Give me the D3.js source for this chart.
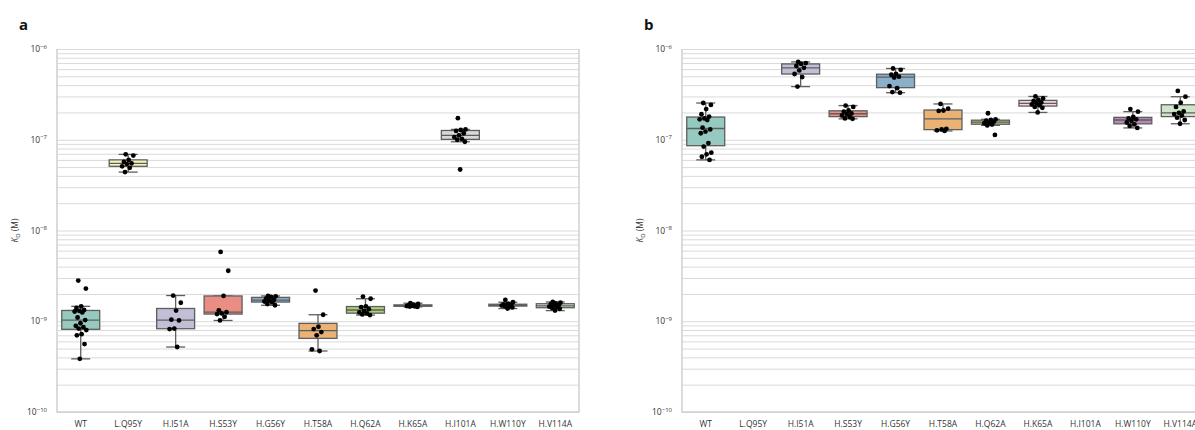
<!DOCTYPE html>
<html>
<head>
<meta charset="utf-8">
<script src="https://cdn.jsdelivr.net/npm/d3@7"></script>
<style>
  body { margin: 0; background: #fff; }
  text { font-family: "Open Sans", "Noto Sans", sans-serif; }
</style>
</head>
<body>
<svg id="chart" width="1195" height="430"></svg>
<script>
// categories on the x axis (same for both panels)
const categories = ["WT", "L.Q95Y", "H.I51A", "H.S53Y", "H.G56Y", "H.T58A", "H.Q62A", "H.K65A", "H.I101A", "H.W110Y", "H.V114A"];

// Set3 colours, one per category
const palette = ["#8dd3c7", "#ffffb3", "#bebada", "#fb8072", "#80b1d3", "#fdb462", "#b3de69", "#fccde5", "#d9d9d9", "#bc80bd", "#ccebc5"];

// decade ticks of the KD axis
const decadeTicks = [1e-10, 1e-9, 1e-8, 1e-7, 1e-6];

// panel a : KD values (M) per category
const kdA = [
  [2.81e-9, 2.29e-9, 1.46e-9, 1.40e-9, 1.33e-9, 1.30e-9, 1.28e-9, 1.25e-9, 1.10e-9, 1.03e-9, 9.5e-10, 8.9e-10, 8.6e-10, 8.3e-10, 8.0e-10, 7.2e-10, 7.0e-10, 5.6e-10, 3.85e-10],
  [6.9e-8, 6.7e-8, 6.0e-8, 5.7e-8, 5.5e-8, 5.4e-8, 5.1e-8, 4.9e-8, 4.4e-8],
  [1.92e-9, 1.60e-9, 1.31e-9, 1.04e-9, 1.02e-9, 8.3e-10, 8.2e-10, 5.2e-10],
  [5.8e-9, 3.6e-9, 1.9e-9, 1.32e-9, 1.26e-9, 1.22e-9, 1.2e-9, 1.12e-9, 1.02e-9],
  [1.9e-9, 1.88e-9, 1.85e-9, 1.78e-9, 1.72e-9, 1.70e-9, 1.65e-9, 1.62e-9, 1.55e-9, 1.5e-9],
  [2.18e-9, 1.18e-9, 8.7e-10, 8.2e-10, 7.6e-10, 7.0e-10, 4.9e-10, 4.7e-10],
  [1.87e-9, 1.77e-9, 1.46e-9, 1.43e-9, 1.36e-9, 1.30e-9, 1.25e-9, 1.22e-9, 1.19e-9, 1.17e-9],
  [1.58e-9, 1.55e-9, 1.52e-9, 1.50e-9, 1.49e-9, 1.48e-9, 1.47e-9, 1.46e-9, 1.45e-9, 1.44e-9],
  [1.73e-7, 1.30e-7, 1.28e-7, 1.25e-7, 1.18e-7, 1.12e-7, 1.07e-7, 1.02e-7, 1.0e-7, 9.5e-8, 4.7e-8],
  [1.72e-9, 1.62e-9, 1.55e-9, 1.53e-9, 1.52e-9, 1.50e-9, 1.49e-9, 1.48e-9, 1.46e-9, 1.42e-9, 1.38e-9],
  [1.63e-9, 1.60e-9, 1.57e-9, 1.55e-9, 1.50e-9, 1.48e-9, 1.45e-9, 1.42e-9, 1.40e-9, 1.37e-9, 1.31e-9]
];

// panel b : KD values (M) per category (no data for L.Q95Y and H.I101A)
const kdB = [
  [2.54e-7, 2.42e-7, 2.18e-7, 1.91e-7, 1.80e-7, 1.72e-7, 1.68e-7, 1.65e-7, 1.36e-7, 1.30e-7, 1.23e-7, 1.18e-7, 9.2e-8, 8.4e-8, 7.2e-8, 6.9e-8, 6.5e-8, 6.0e-8],
  [],
  [7.2e-7, 7.0e-7, 6.85e-7, 6.5e-7, 6.2e-7, 5.8e-7, 5.3e-7, 4.9e-7, 3.85e-7],
  [2.38e-7, 2.30e-7, 2.10e-7, 2.04e-7, 1.95e-7, 1.92e-7, 1.85e-7, 1.78e-7, 1.72e-7, 1.70e-7],
  [6.1e-7, 5.9e-7, 5.3e-7, 5.2e-7, 4.95e-7, 4.85e-7, 3.9e-7, 3.7e-7, 3.35e-7, 3.3e-7],
  [2.48e-7, 2.20e-7, 2.10e-7, 2.08e-7, 1.32e-7, 1.30e-7, 1.27e-7, 1.25e-7],
  [1.96e-7, 1.68e-7, 1.65e-7, 1.62e-7, 1.58e-7, 1.55e-7, 1.52e-7, 1.47e-7, 1.44e-7, 1.13e-7],
  [3.0e-7, 2.85e-7, 2.75e-7, 2.68e-7, 2.58e-7, 2.52e-7, 2.45e-7, 2.40e-7, 2.30e-7, 2.25e-7, 2.0e-7],
  [],
  [2.18e-7, 2.04e-7, 1.78e-7, 1.72e-7, 1.68e-7, 1.62e-7, 1.55e-7, 1.48e-7, 1.42e-7, 1.35e-7],
  [3.45e-7, 2.98e-7, 2.56e-7, 2.30e-7, 2.05e-7, 1.98e-7, 1.92e-7, 1.85e-7, 1.75e-7, 1.65e-7, 1.50e-7]
];

const svg = d3.select("#chart");
const top_y = 49, bottom_y = 412, plotW = 522;
const gridColor = "#dadada";
const edgeColor = "#5e5e5e";

function desaturate(c, prop) {
    const h = d3.hsl(c);
    h.s *= prop;
    return h.formatHex();
}

function boxStats(vals) {
    const s = vals.slice().sort(d3.ascending);
    const q1 = d3.quantile(s, 0.25),
          med = d3.quantile(s, 0.5),
          q3 = d3.quantile(s, 0.75);
    const iqr = q3 - q1;
    return {
        q1: q1, med: med, q3: q3,
        lo: d3.min(s.filter(v => v >= q1 - 1.5 * iqr)),
        hi: d3.max(s.filter(v => v <= q3 + 1.5 * iqr))
    };
}

function drawPanel(left, letter, data) {
    const g = svg.append("g");

    const x = d3.scaleBand().domain(categories).range([left, left + plotW]).padding(0);
    const y = d3.scaleLog().domain([1e-10, 1e-6]).range([bottom_y, top_y]);

    // minor + major gridlines
    const gridVals = [];
    decadeTicks.forEach((d, i) => {
        if (i < decadeTicks.length - 1) {
            for (let m = 1; m < 10; m++) gridVals.push(m * d);
        } else {
            gridVals.push(d);
        }
    });
    g.append("g")
        .attr("transform", `translate(${left},0)`)
        .call(d3.axisLeft(y).tickValues(gridVals).tickSize(-plotW).tickFormat(""))
        .call(a => a.select(".domain").remove())
        .call(a => a.selectAll("line").attr("stroke", gridColor).attr("stroke-width", 1));

    // frame
    g.append("path")
        .attr("d", `M${left},${top_y}V${bottom_y}H${left + plotW}V${top_y}`)
        .attr("fill", "none")
        .attr("stroke", "#cfcfcf")
        .attr("stroke-width", 1.5);

    // y tick labels: 10 with a superscript exponent
    const yl = g.append("g").selectAll("text")
        .data(decadeTicks)
        .enter().append("text")
        .attr("x", left - 10)
        .attr("y", d => y(d) + 3)
        .attr("text-anchor", "end")
        .attr("font-size", 8.5)
        .attr("fill", "#333");
    yl.append("tspan").text("10");
    yl.append("tspan")
        .attr("font-size", 6)
        .attr("dy", -3.5)
        .text(d => "\u2212" + Math.round(-Math.log10(d)));

    // x tick labels
    g.append("g")
        .attr("transform", `translate(0,${bottom_y})`)
        .call(d3.axisBottom(x).tickSize(0).tickPadding(9))
        .call(a => a.select(".domain").remove())
        .call(a => a.selectAll("text").attr("font-size", 8.5).attr("fill", "#333")
            .style("font-family", "'Open Sans', sans-serif"));

    // y axis title
    const yt = g.append("text")
        .attr("transform", `translate(${left - 39},${(top_y + bottom_y) / 2}) rotate(-90)`)
        .attr("text-anchor", "middle")
        .attr("font-size", 8.5)
        .attr("fill", "#333");
    yt.append("tspan").attr("font-style", "italic").text("K");
    yt.append("tspan").attr("font-size", 6).attr("dy", 2).text("D");
    yt.append("tspan").attr("dy", -2).text(" (M)");

    // panel letter
    g.append("text")
        .attr("x", left - 38)
        .attr("y", 30)
        .attr("font-size", 15)
        .attr("font-weight", "bold")
        .attr("fill", "#111")
        .text(letter);

    const bw = x.bandwidth();
    const boxW = bw * 0.8, capW = bw * 0.4;

    categories.forEach((cat, i) => {
        const vals = data[i];
        if (!vals.length) return;
        const st = boxStats(vals);
        const cx = x(cat) + bw / 2;
        const bg = g.append("g");

        // whiskers
        bg.append("line").attr("x1", cx).attr("x2", cx).attr("y1", y(st.q3)).attr("y2", y(st.hi))
            .attr("stroke", edgeColor).attr("stroke-width", 1.3);
        bg.append("line").attr("x1", cx).attr("x2", cx).attr("y1", y(st.q1)).attr("y2", y(st.lo))
            .attr("stroke", edgeColor).attr("stroke-width", 1.3);
        [st.hi, st.lo].forEach(v => {
            bg.append("line").attr("x1", cx - capW / 2).attr("x2", cx + capW / 2).attr("y1", y(v)).attr("y2", y(v))
                .attr("stroke", edgeColor).attr("stroke-width", 1.3);
        });

        // box
        bg.append("rect")
            .attr("x", cx - boxW / 2)
            .attr("width", boxW)
            .attr("y", y(st.q3))
            .attr("height", Math.max(0.5, y(st.q1) - y(st.q3)))
            .attr("fill", desaturate(palette[i], 0.75))
            .attr("stroke", edgeColor)
            .attr("stroke-width", 1.3);

        // median
        bg.append("line").attr("x1", cx - boxW / 2).attr("x2", cx + boxW / 2)
            .attr("y1", y(st.med)).attr("y2", y(st.med))
            .attr("stroke", edgeColor).attr("stroke-width", 1.3);

        // strip points, fixed jitter pattern
        bg.selectAll("circle")
            .data(vals)
            .enter().append("circle")
            .attr("cx", (d, j) => cx + (((j * 0.618034 + 0.3) % 1) - 0.5) * bw * 0.26)
            .attr("cy", d => y(d))
            .attr("r", 2.4)
            .attr("fill", "#000");
    });
}

drawPanel(57, "a", kdA);
drawPanel(682, "b", kdB);
</script>
</body>
</html>
